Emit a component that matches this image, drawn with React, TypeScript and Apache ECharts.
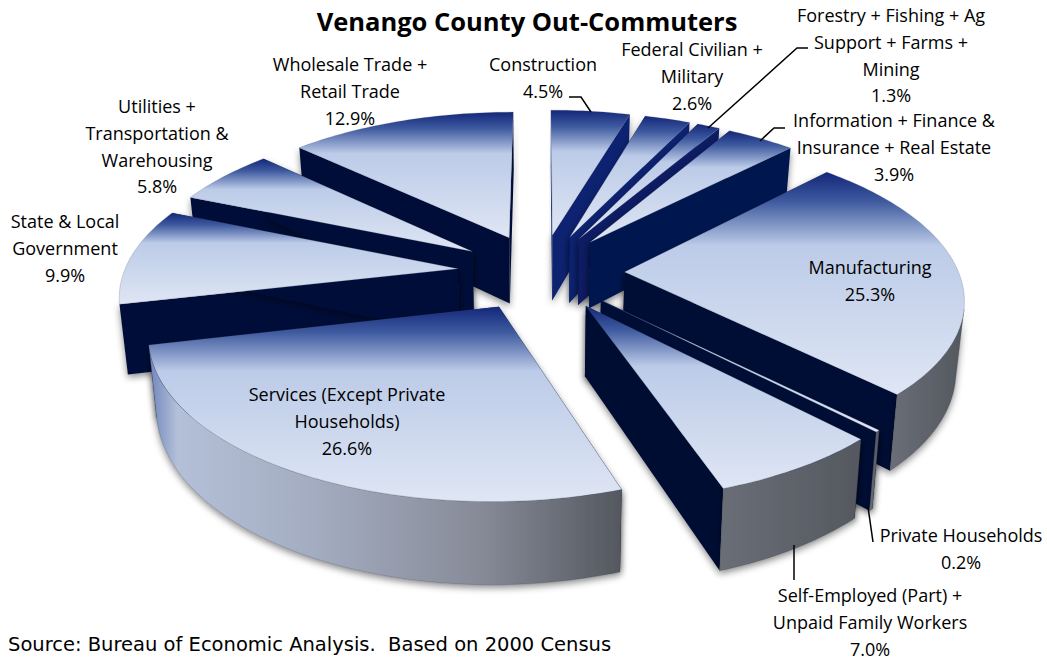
import React, { useEffect, useRef } from "react";
import * as echarts from "echarts";

const sliceNames = [
  ["Construction"],
  ["Federal Civilian +", "Military"],
  ["Forestry + Fishing + Ag", "Support + Farms +", "Mining"],
  ["Information + Finance &", "Insurance + Real Estate"],
  ["Manufacturing"],
  ["Private Households"],
  ["Self-Employed (Part) +", "Unpaid Family Workers"],
  ["Services (Except Private", "Households)"],
  ["State & Local", "Government"],
  ["Utilities +", "Transportation &", "Warehousing"],
  ["Wholesale Trade +", "Retail Trade"],
];
const sliceValues = [4.5, 2.6, 1.3, 3.9, 25.3, 0.2, 7.0, 26.6, 9.9, 5.8, 12.9];
const paintOrder = [10, 9, 8, 0, 1, 2, 3, 4, 5, 6, 7];
const wallColors = ["#0a216f", "#0a216f", "#091d64", "#05154f", "#020f36", "#020f36", "#010f33", "#010f33", "#021038", "#021038", "#021038"];
const labelCenters: [number, number][] = [
  [543, 64], [692, 49], [891, 15], [894, 120], [870, 267], [961, 535], [870, 595], [347, 394], [65, 221], [157, 106], [350, 64],
];
const leaders: [number, number][][] = [
  [[569, 97], [581, 97], [591, 112]],
  [[808, 48], [797, 48], [708, 128]],
  [[785, 128], [774, 128], [760, 141]],
  [[873, 542], [868, 507]],
  [[794, 545], [794, 580]],
];

const CX = 541, CY = 272, RX = 334, RY = 154, P = 0.15, H = 68, EXPLODE = 0.25, SHRINK = 0.98;
const FONT = "'Open Sans'";

function proj(u: number, v: number, bottom: boolean): number[] {
  const s = 1 / (1 - P * v);
  const x = RX * u * s;
  const y = CY + RY * v * s;
  return bottom ? [CX + x * SHRINK, y + H * s] : [CX + x, y];
}

const total = sliceValues.reduce((a, b) => a + b, 0);

function sliceAngles(i: number): number[] {
  let before = 0;
  for (let k = 0; k < i; k++) before += sliceValues[k];
  return [(before / total) * 2 * Math.PI, ((before + sliceValues[i]) / total) * 2 * Math.PI];
}

const topFill = new echarts.graphic.LinearGradient(0, 0, 0, 1, [
  { offset: 0, color: "#13277a" },
  { offset: 0.13, color: "#3e5a9f" },
  { offset: 0.33, color: "#bccbe8" },
  { offset: 1, color: "#dfe6f4" },
]);

const servicesRim = new echarts.graphic.LinearGradient(0, 0, 1, 0, [
  { offset: 0, color: "#6f86bd" },
  { offset: 0.06, color: "#b4c0d8" },
  { offset: 0.35, color: "#a3acc0" },
  { offset: 0.7, color: "#878b98" },
  { offset: 1, color: "#54585f" },
]);
const greyRim = new echarts.graphic.LinearGradient(0, 0, 1, 0, [
  { offset: 0, color: "#6a6e77" },
  { offset: 1, color: "#54585f" },
]);

const SHADOW = { shadowBlur: 7, shadowColor: "rgba(0,0,0,0.45)", shadowOffsetX: 0, shadowOffsetY: 3 };

function renderSlice(_params: any, api: any) {
  const index = api.value(0) as number;
  const [a0, a1] = sliceAngles(index);
  const mid = (a0 + a1) / 2;
  const ou = EXPLODE * Math.sin(mid);
  const ov = -EXPLODE * Math.cos(mid);
  const point = (a: number, bottom: boolean) => proj(ou + Math.sin(a), ov - Math.cos(a), bottom);
  const apexTop = proj(ou, ov, false);
  const apexBottom = proj(ou, ov, true);
  const steps = Math.max(2, Math.ceil((a1 - a0) / 0.02));
  const arcTop: number[][] = [];
  const rimTop: number[][] = [];
  const rimBottom: number[][] = [];
  for (let k = 0; k <= steps; k++) {
    const a = a0 + ((a1 - a0) * k) / steps;
    arcTop.push(point(a, false));
    if (Math.cos(a) < -0.23) {
      rimTop.push(point(a, false));
      rimBottom.push(point(a, true));
    }
  }
  const wall = (a: number) => ({
    type: "polygon",
    shape: { points: [apexTop, point(a, false), point(a, true), apexBottom] },
    style: { fill: wallColors[index], ...SHADOW },
  });
  const children: any[] = [wall(a0), wall(a1)];
  if (rimTop.length > 1) {
    children.push({
      type: "polygon",
      shape: { points: [...rimTop, ...rimBottom.slice().reverse()] },
      style: { fill: index === 7 ? servicesRim : greyRim, stroke: "rgba(50,55,70,0.5)", lineWidth: 0.5, ...SHADOW },
    });
  }
  children.push({
    type: "polygon",
    shape: { points: [apexTop, ...arcTop] },
    style: { fill: topFill, stroke: "rgba(70,80,110,0.45)", lineWidth: 0.5 },
  });
  return { type: "group", children };
}

const labelTexts: any[] = [];
sliceValues.forEach((value, i) => {
  const lines = [...sliceNames[i], value.toFixed(1) + "%"];
  const [x, y0] = labelCenters[i];
  lines.forEach((line, j) => {
    labelTexts.push({
      type: "text",
      x,
      y: y0 + j * 26.8,
      z: 100,
      style: { text: line, font: `18px ${FONT}`, fill: "#000", textAlign: "center", textVerticalAlign: "middle" },
    });
  });
});

const leaderLines = leaders.map((pts) => ({
  type: "polyline",
  z: 90,
  shape: { points: pts },
  style: { stroke: "#000", lineWidth: 1.5, fill: "none" },
}));

export default function App() {
  const ref = useRef<HTMLDivElement>(null);
  useEffect(() => {
    const chart = echarts.init(ref.current!, undefined, { renderer: "svg" });
    chart.setOption({
      animation: false,
      backgroundColor: "#fff",
      title: {
        text: "Venango County Out-Commuters",
        left: 522,
        top: 3,
        textAlign: "center",
        textStyle: { fontFamily: "Open Sans", fontWeight: "bold", fontSize: 25.5, color: "#000" },
      },
      series: [
        {
          type: "custom",
          coordinateSystem: "none",
          renderItem: renderSlice,
          data: paintOrder.map((i) => [i, sliceValues[i]]),
          silent: true,
        },
      ],
      graphic: [
        ...labelTexts,
        ...leaderLines,
        {
          type: "text",
          x: 8,
          y: 644,
          z: 100,
          style: {
            text: "Source: Bureau of Economic Analysis.  Based on 2000 Census",
            font: "19.5px 'DejaVu Sans'",
            fill: "#000",
            textVerticalAlign: "middle",
          },
        },
      ],
    });
    return () => chart.dispose();
  }, []);
  return <div ref={ref} style={{ position: "fixed", left: 0, top: 0, width: 1047, height: 660 }} />;
}
